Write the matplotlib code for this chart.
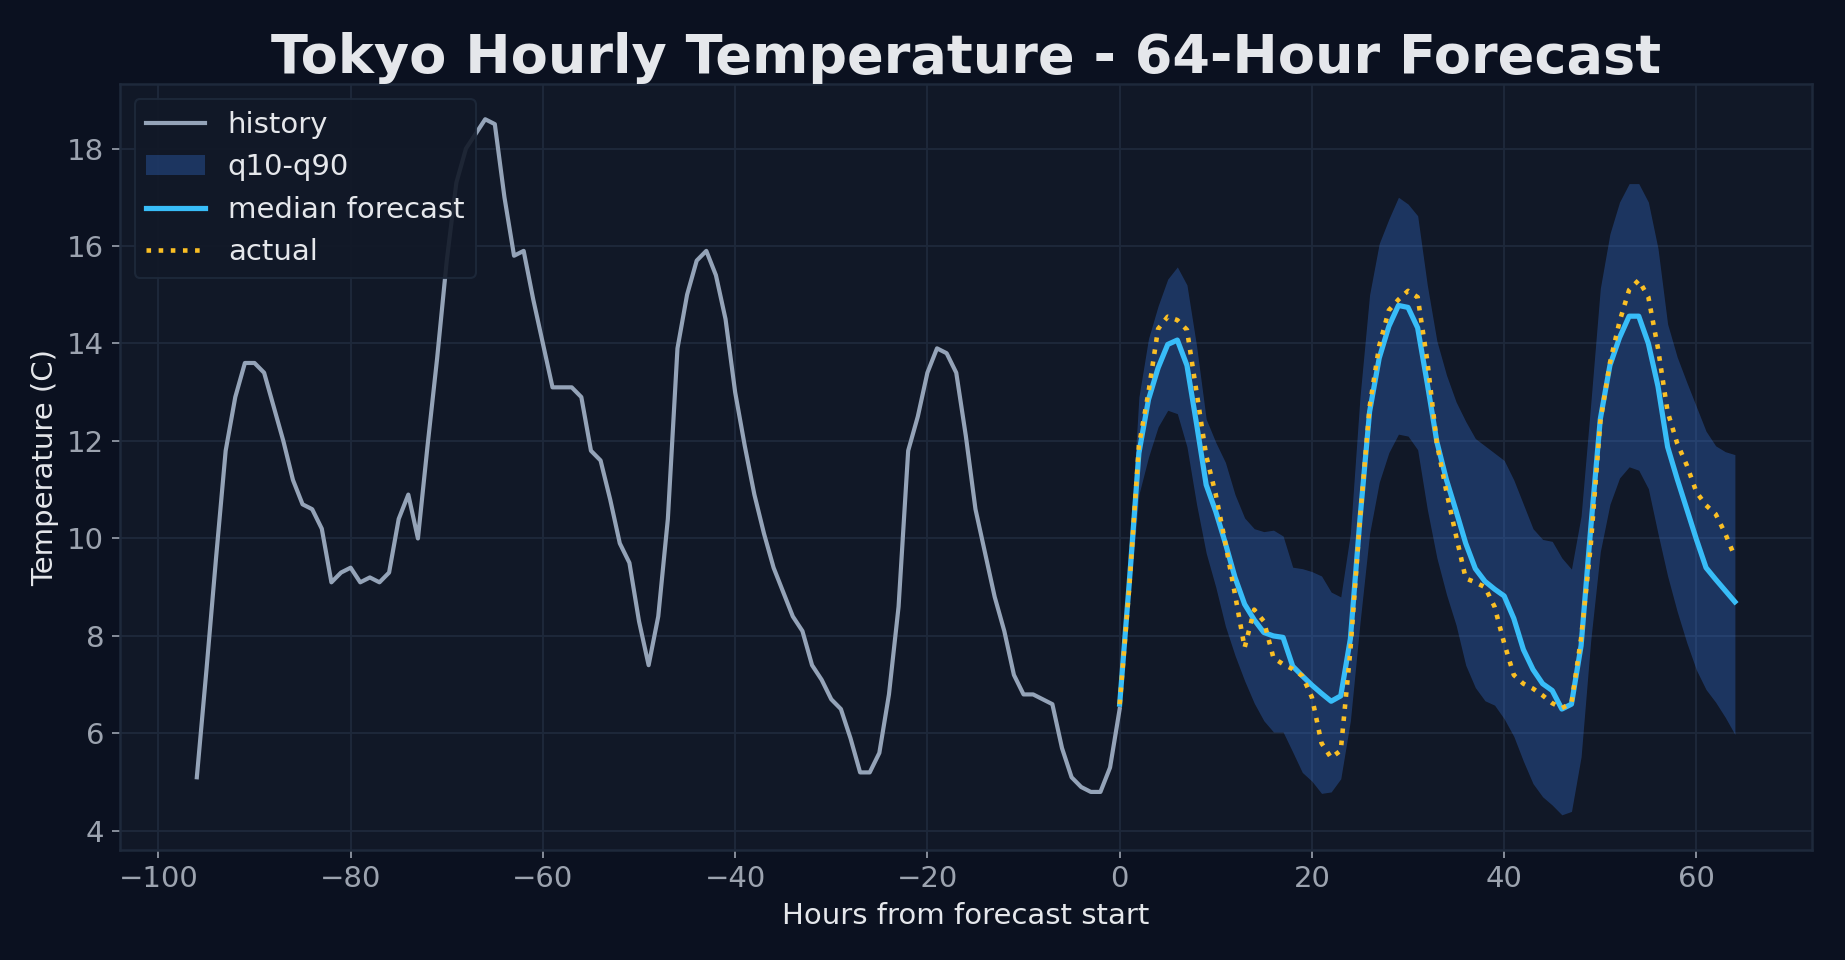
import numpy as np
import matplotlib
matplotlib.use('Agg')
import matplotlib.pyplot as plt

# hours before forecast start (-96 .. 0)
history_hours = list(range(-96, 1))
history_temp = [
    5.1, 7.3, 9.6, 11.8, 12.9, 13.6, 13.6, 13.4, 12.7, 12.0,
    11.2, 10.7, 10.6, 10.2, 9.1, 9.3, 9.4, 9.1, 9.2, 9.1,
    9.3, 10.4, 10.9, 10.0, 11.9, 13.7, 15.7, 17.3, 18.0, 18.3,
    18.6, 18.5, 17.0, 15.8, 15.9, 14.9, 14.0, 13.1, 13.1, 13.1,
    12.9, 11.8, 11.6, 10.8, 9.9, 9.5, 8.3, 7.4, 8.4, 10.4,
    13.9, 15.0, 15.7, 15.9, 15.4, 14.5, 13.0, 11.9, 10.9, 10.1,
    9.4, 8.9, 8.4, 8.1, 7.4, 7.1, 6.7, 6.5, 5.9, 5.2,
    5.2, 5.6, 6.8, 8.6, 11.8, 12.5, 13.4, 13.9, 13.8, 13.4,
    12.1, 10.6, 9.7, 8.8, 8.1, 7.2, 6.8, 6.8, 6.7, 6.6,
    5.7, 5.1, 4.9, 4.8, 4.8, 5.3, 6.5,
]

# forecast hours (0 .. 64)
forecast_hours = list(range(0, 65))
median_fc = [
    6.6, 9.1, 11.75, 12.85, 13.5, 13.98, 14.07, 13.55, 12.35, 11.1,
    10.55, 9.9, 9.2, 8.65, 8.33, 8.07, 8.0, 7.97, 7.38, 7.18,
    6.99, 6.82, 6.66, 6.77, 7.94, 10.4, 12.6, 13.7, 14.35, 14.78,
    14.74, 14.32, 13.18, 11.98, 11.2, 10.56, 9.9, 9.38, 9.12, 8.96,
    8.82, 8.36, 7.72, 7.31, 7.02, 6.88, 6.5, 6.6, 7.8, 10.2,
    12.45, 13.55, 14.12, 14.56, 14.56, 14.0, 13.12, 11.88, 11.22, 10.6,
    9.98, 9.4, 9.16, 8.93, 8.7,
]
actual = [
    6.6, 9.0, 11.9, 13.0, 14.3, 14.55, 14.48, 14.28, 13.0, 11.7,
    10.9, 9.9, 8.85, 7.76, 8.54, 8.3, 7.55, 7.42, 7.32, 7.18,
    6.74, 5.8, 5.5, 5.65, 7.7, 10.4, 12.7, 13.95, 14.68, 14.9,
    15.08, 14.95, 13.65, 11.95, 10.95, 10.05, 9.18, 9.1, 9.0, 8.6,
    7.85, 7.2, 7.02, 6.92, 6.78, 6.62, 6.52, 6.62, 7.95, 9.85,
    12.4, 13.6, 14.45, 15.1, 15.3, 14.95, 13.9, 12.6, 11.95, 11.5,
    10.95, 10.68, 10.5, 10.1, 9.62,
]
q90 = [
    6.6, 9.6, 12.9, 14.1, 14.77, 15.32, 15.57, 15.2, 13.95, 12.45,
    11.97, 11.56, 10.9, 10.42, 10.2, 10.14, 10.17, 10.05, 9.41, 9.38,
    9.32, 9.23, 8.9, 8.8, 10.1, 12.9, 15.0, 16.05, 16.55, 17.0,
    16.86, 16.62, 15.2, 14.05, 13.35, 12.8, 12.4, 12.05, 11.9, 11.75,
    11.6, 11.2, 10.7, 10.2, 9.98, 9.94, 9.6, 9.37, 10.46, 12.75,
    15.13, 16.25, 16.9, 17.28, 17.28, 16.9, 15.95, 14.4, 13.72, 13.2,
    12.7, 12.2, 11.9, 11.78, 11.72,
]
q10 = [
    6.6, 8.6, 10.9, 11.67, 12.29, 12.63, 12.56, 11.88, 10.7, 9.7,
    9.0, 8.2, 7.6, 7.08, 6.62, 6.26, 6.03, 6.03, 5.62, 5.2,
    5.02, 4.77, 4.8, 5.07, 6.26, 8.27, 10.1, 11.15, 11.76, 12.14,
    12.1, 11.82, 10.6, 9.6, 8.85, 8.22, 7.4, 6.94, 6.67, 6.58,
    6.3, 5.94, 5.43, 4.97, 4.7, 4.53, 4.33, 4.4, 5.52, 7.9,
    9.73, 10.7, 11.24, 11.47, 11.4, 11.02, 10.1, 9.23, 8.5, 7.86,
    7.3, 6.9, 6.64, 6.33, 5.98,
]

bg = '#0b1120'
panel = '#111827'
gridc = '#1e293b'
textc = '#e5e7eb'
tickc = '#9ca3af'

fig, ax = plt.subplots(figsize=(12.3, 6.4), dpi=150)
fig.patch.set_facecolor(bg)
ax.set_facecolor(panel)

ax.plot(history_hours, history_temp, color='#94a3b8', lw=2, label='history')
ax.fill_between(forecast_hours, q10, q90, color='#3b82f6', alpha=0.28,
                lw=0, label='q10-q90')
ax.plot(forecast_hours, median_fc, color='#38bdf8', lw=2.5, label='median forecast')
ax.plot(forecast_hours, actual, color='#fbbf24', lw=2.2, ls=':', label='actual')

ax.grid(True, color=gridc, lw=0.9)
ax.set_axisbelow(True)
for s in ax.spines.values():
    s.set_color(gridc)
    s.set_linewidth(1.2)
ax.tick_params(colors=tickc, labelsize=14, length=4)

ax.set_title('Tokyo Hourly Temperature - 64-Hour Forecast', color=textc,
             fontsize=26, fontweight='bold', pad=4)
ax.set_xlabel('Hours from forecast start', color=textc, fontsize=14)
ax.set_ylabel('Temperature (C)', color=textc, fontsize=14)

leg = ax.legend(loc='upper left', fontsize=14, facecolor=panel,
                edgecolor=gridc, framealpha=0.9)
for t in leg.get_texts():
    t.set_color(textc)

plt.subplots_adjust(left=0.065, right=0.982, top=0.912, bottom=0.115)
plt.savefig('out.png', facecolor=bg)
